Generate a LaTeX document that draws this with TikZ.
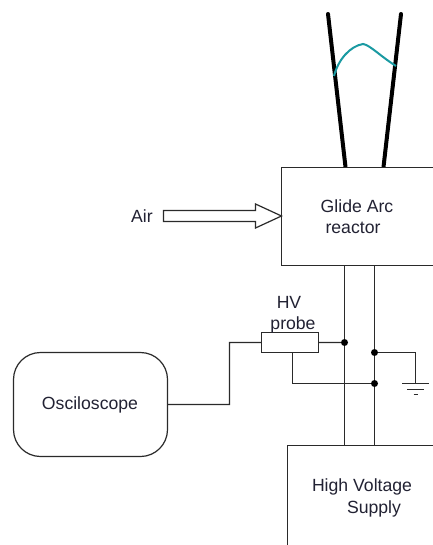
\documentclass[tikz,border=0pt]{standalone}
\usepackage{fontspec}
\setmainfont{Liberation Sans}
\usetikzlibrary{calc}
\definecolor{wirec}{HTML}{2A2A2A}
\definecolor{arcc}{HTML}{1A9AA2}
\definecolor{textc}{HTML}{222233}
\tikzset{
  wire/.style={draw=wirec,line width=1.2bp},
  box/.style={draw=wirec,line width=1.2bp,fill=white,inner sep=0pt,outer sep=0pt,rectangle},
  scope box/.style={box,rounded corners=27bp},
  label/.style={text=textc,font=\fontsize{17.7}{18}\selectfont,inner sep=0pt,anchor=center},
  electrode/.style={draw=black,line width=4bp,line cap=round},
  dot/.style={circle,fill=black,draw=none,minimum size=7bp,inner sep=0pt,outer sep=0pt},
}
\begin{document}
\begin{tikzpicture}[x=1bp,y=-1bp]
\clip (0,0) rectangle (433,545);
\fill[white] (0,0) rectangle (433,545);
% electrodes
\coordinate (eltop) at (328,14);
\coordinate (erttop) at (401,14);
\coordinate (elbot) at (345.5,167);
\coordinate (ertbot) at (383.5,167);
\draw[electrode] (eltop) -- (elbot);
\draw[electrode] (erttop) -- (ertbot);
\coordinate (arcl) at (334,76);
\coordinate (arcm) at (363,44);
\coordinate (arcr) at (396,66);
\draw[arcc,line width=2bp] (arcl) .. controls (338,60) and (350,46) .. (arcm) .. controls (370,45) and (380,56) .. (arcr);
% boxes
\node[box,minimum width=170bp,minimum height=98bp,anchor=north west] (reactor) at (281.5,167.5) {};
\node[box,minimum width=170bp,minimum height=120bp,anchor=north west] (supply) at (287.5,445.5) {};
\node[scope box,minimum width=154bp,minimum height=104bp,anchor=north west] (scope) at (13.5,352.5) {};
\node[box,minimum width=57bp,minimum height=20bp,anchor=north west] (probe) at (261.5,332.5) {};
% supply lines
\coordinate (r1) at (344.5,265.5);
\coordinate (r2) at (374.5,265.5);
\coordinate (s1) at (344.5,445.5);
\coordinate (s2) at (374.5,445.5);
\draw[wire] (r1) -- (s1);
\draw[wire] (r2) -- (s2);
% junctions
\node[dot] (j1) at (344.5,342.5) {};
\node[dot] (j2) at (374.5,352.5) {};
\node[dot] (j3) at (374.5,383.5) {};
% wiring
\coordinate (gnd) at (415.5,383.5);
\coordinate (pb) at (292.5,352.5);
\draw[wire] (probe.east) -- (j1);
\draw[wire] (probe.west) -- (229.5,342.5) -- (229.5,404.5) -- (scope.east);
\draw[wire] (j2) -- (415.5,352.5) -- (gnd);
\draw[wire] (pb) -- (292.5,383.5) -- (j3);
% ground
\draw[wire] (402,383.5) -- (429,383.5);
\draw[wire] (407,389.5) -- (424,389.5);
\draw[wire] (413.5,394.5) -- (417.5,394.5);
% air arrow
\coordinate (airtip) at (reactor.west |- 0,216);
\draw[wire,fill=white] (163.5,210.5) -- (255.5,210.5) -- (255.5,204) -- (airtip) -- (255.5,228) -- (255.5,221.5) -- (163.5,221.5) -- cycle;
% labels
\node[label] (air) at (142,216) {Air};
\node[label] (glide) at (357,206) {Glide Arc};
\node[label] (react) at (353,228) {reactor};
\node[label] (hv) at (289,302) {HV};
\node[label] (prb) at (293,325) {probe};
\node[label] (osc) at (90,405) {Osciloscope};
\node[label] (hvs) at (362,487) {High Voltage};
\node[label] (sup) at (374,509) {Supply};
\end{tikzpicture}
\end{document}
